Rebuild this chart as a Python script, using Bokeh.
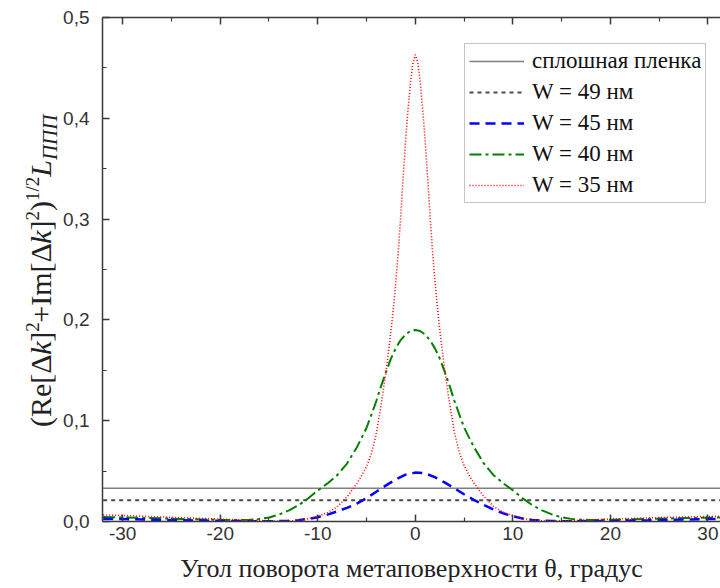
import math
from bokeh.plotting import figure
from bokeh.layouts import row
from bokeh.models import (Range1d, LinearAxis, FixedTicker, Legend, LegendItem, CustomJSTickFormatter)
from bokeh.core.properties import value
from bokeh.embed import file_html
from bokeh.resources import INLINE

# ---------------- data ----------------
theta_flat = [-32, 32]
film = [0.033, 0.033]          # сплошная пленка
w49 = [0.021, 0.021]           # W = 49 нм

theta_w45 = [-32, -30, -28, -26, -24, -22, -20, -18, -16, -14, -13, -12, -11, -10, -9, -8, -7, -6, -5, -4,
             -3, -2, -1, 0, 1, 2, 3, 4, 5, 6, 7, 8, 9, 10, 11, 12, 13, 14, 16, 18, 20, 22, 24, 26, 28, 30, 32]
w45 = [0.0028, 0.0024, 0.0020, 0.0016, 0.0012, 0.0009, 0.0006, 0.0004, 0.0003, 0.0004, 0.0007, 0.0013,
       0.0025, 0.0043, 0.0068, 0.0100, 0.0135, 0.0178, 0.0232, 0.0295, 0.0358, 0.0418, 0.0465, 0.0485,
       0.0478, 0.0440, 0.0388, 0.0330, 0.0270, 0.0215, 0.0165, 0.0120, 0.0082, 0.0052, 0.0030, 0.0016,
       0.0008, 0.0004, 0.0003, 0.0004, 0.0006, 0.0009, 0.0012, 0.0016, 0.0020, 0.0024, 0.0028]

theta_w40 = [-32, -30, -28, -26, -24, -22, -20, -18, -17, -16, -15, -14, -13, -12, -11, -10, -9, -8, -7, -6,
             -5.5, -5, -4.5, -4, -3.5, -3, -2.5, -2, -1.5, -1, -0.5, 0, 0.5, 1, 1.5, 2, 2.5, 3, 3.5, 4, 4.5,
             5, 5.5, 6, 7, 8, 9, 10, 11, 12, 13, 14, 15, 16, 17, 18, 20, 22, 24, 26, 28, 30, 32]
w40 = [0.0045, 0.0040, 0.0036, 0.0031, 0.0026, 0.0021, 0.0017, 0.0014, 0.0017, 0.0025, 0.0040, 0.0068,
       0.0108, 0.0160, 0.0228, 0.0308, 0.0378, 0.0460, 0.0575, 0.0735, 0.0830, 0.0930, 0.1060, 0.1195,
       0.1345, 0.1485, 0.1615, 0.1720, 0.1800, 0.1855, 0.1890, 0.1900, 0.1890, 0.1855, 0.1800, 0.1720,
       0.1620, 0.1490, 0.1350, 0.1200, 0.1065, 0.0935, 0.0835, 0.0740, 0.0580, 0.0462, 0.0380, 0.0310,
       0.0230, 0.0162, 0.0110, 0.0070, 0.0042, 0.0026, 0.0018, 0.0015, 0.0017, 0.0021, 0.0026, 0.0030,
       0.0034, 0.0038, 0.0042]

theta_w35 = [-32, -30, -28, -26, -24, -22, -20, -18, -16, -14, -13, -12, -11, -10, -9, -8, -7, -6, -5.5, -5,
             -4.5, -4, -3.5, -3, -2.75, -2.5, -2.25, -2, -1.75, -1.5, -1.25, -1, -0.75, -0.5, -0.25, 0,
             0.25, 0.5, 0.75, 1, 1.25, 1.5, 1.75, 2, 2.25, 2.5, 2.75, 3, 3.5, 4, 4.5, 5, 5.5, 6, 7, 8, 9,
             10, 11, 12, 13, 14, 16, 18, 20, 22, 24, 26, 28, 30, 32]
w35 = [0.0066, 0.0060, 0.0052, 0.0045, 0.0038, 0.0031, 0.0024, 0.0017, 0.0011, 0.0004, 0.0004, 0.0012,
       0.0028, 0.0052, 0.0088, 0.0145, 0.0245, 0.0375, 0.0455, 0.0545, 0.0675, 0.0870, 0.1160, 0.1490,
       0.1690, 0.1890, 0.2110, 0.2370, 0.2670, 0.3020, 0.3410, 0.3770, 0.4080, 0.4350, 0.4550, 0.4630,
       0.4555, 0.4365, 0.4095, 0.3790, 0.3430, 0.3050, 0.2700, 0.2400, 0.2140, 0.1910, 0.1710, 0.1510,
       0.1180, 0.0890, 0.0690, 0.0555, 0.0462, 0.0382, 0.0252, 0.0152, 0.0092, 0.0056, 0.0031, 0.0014,
       0.0005, 0.0004, 0.0010, 0.0017, 0.0024, 0.0030, 0.0036, 0.0041, 0.0046, 0.0050, 0.0053]

x_ticks = [-30, -20, -10, 0, 10, 20, 30]
x_tick_labels = ["-30", "-20", "-10", "0", "10", "20", "30"]
x_minor = [-25, -15, -5, 5, 15, 25]
y_ticks = [0.0, 0.1, 0.2, 0.3, 0.4, 0.5]
y_minor = [0.05, 0.15, 0.25, 0.35, 0.45]
y_tick_labels = ["0,0", "0,1", "0,2", "0,3", "0,4", "0,5"]
x_title = "Угол поворота метаповерхности θ, градус"
legend_labels = ["сплошная пленка", "W = 49 нм", "W = 45 нм", "W = 40 нм", "W = 35 нм"]
# y title: (text, role, style, approx. advance width in em of its own size)
y_title_pieces = [("(Re[Δ", "main", "normal", 2.39), ("k", "main", "italic", 0.44),
                  ("]", "main", "normal", 0.33), ("2", "sup", "normal", 0.5),
                  ("+Im[Δ", "main", "normal", 2.62), ("k", "main", "italic", 0.44),
                  ("]", "main", "normal", 0.33), ("2", "sup", "normal", 0.5),
                  (")", "main", "normal", 0.33), ("1/2", "sup", "normal", 1.28),
                  ("L", "main", "italic", 0.56), ("ППП", "sub", "italic", 2.16)]

# ---------------- layout geometry (canvas px) ----------------
W, H = 720, 588
LW = 60                      # width of the strip holding the rotated y title
FL, FT, FB = 101, 17, 521    # frame left / top / bottom

# ---------------- main figure ----------------
p = figure(width=W - LW, height=H, output_backend="svg", toolbar_location=None,
           x_range=Range1d(-32.07, 31.29), y_range=Range1d(0.0, 0.5),
           min_border_left=FL - LW, min_border_right=0, min_border_top=FT, min_border_bottom=H - FB)
p.outline_line_color = None
p.xgrid.visible = False
p.ygrid.visible = False
p.background_fill_color = "white"
p.border_fill_color = "white"

axis_color = "#3a3a3a"
xt = FixedTicker(ticks=x_ticks, minor_ticks=x_minor)
yt = FixedTicker(ticks=y_ticks, minor_ticks=y_minor)

xa = p.xaxis[0]
xa.ticker = xt
xa.major_label_overrides = {t: s for t, s in zip(x_ticks, x_tick_labels)}
ya = p.yaxis[0]
ya.ticker = yt
ya.major_label_overrides = {t: s for t, s in zip(y_ticks, y_tick_labels)}
for ax in (xa, ya):
    ax.axis_line_color = axis_color
    ax.axis_line_width = 1.5
    ax.major_tick_line_color = axis_color
    ax.minor_tick_line_color = axis_color
    ax.major_tick_line_width = 1.5
    ax.minor_tick_line_width = 1.2
    ax.major_tick_in = 7
    ax.major_tick_out = 0
    ax.minor_tick_in = 4
    ax.minor_tick_out = 0
    ax.major_label_text_font = "Liberation Sans"
    ax.major_label_text_font_size = "19px"
    ax.major_label_text_color = "#333333"
xa.major_label_standoff = 5
ya.major_label_standoff = 13
xa.axis_label = x_title
xa.axis_label_text_font = "Liberation Serif"
xa.axis_label_text_font_size = "26px"
xa.axis_label_text_font_style = "normal"
xa.axis_label_text_color = "#222222"
xa.axis_label_standoff = 11

top = LinearAxis(ticker=xt, formatter=CustomJSTickFormatter(code="return ''"),
                 axis_line_color=axis_color,
                 axis_line_width=1.5, major_tick_line_color=axis_color, minor_tick_line_color=axis_color,
                 major_tick_line_width=1.5, minor_tick_line_width=1.2,
                 major_tick_in=7, major_tick_out=0, minor_tick_in=4, minor_tick_out=0,
                 major_label_standoff=0)
p.add_layout(top, "above")

# ---------------- lines ----------------
r_film = p.line(theta_flat, film, line_color="#808080", line_width=1.5)
r49 = p.line(theta_flat, w49, line_color="#4a4a4a", line_width=2, line_dash="4 4")
r40 = p.line(theta_w40, w40, line_color="#008000", line_width=2, line_dash="12 4 3 4")
r45 = p.line(theta_w45, w45, line_color="#0000ff", line_width=2.5, line_dash="10 6")
r35 = p.line(theta_w35, w35, line_color="#ff0000", line_width=1.6, line_dash="1 2")

legend = Legend(items=[LegendItem(label=legend_labels[0], renderers=[r_film]),
                       LegendItem(label=legend_labels[1], renderers=[r49]),
                       LegendItem(label=legend_labels[2], renderers=[r45]),
                       LegendItem(label=legend_labels[3], renderers=[r40]),
                       LegendItem(label=legend_labels[4], renderers=[r35])],
                location=(463 - FL, FB - 203))
legend.label_text_font = "Liberation Serif"
legend.label_text_font_size = "23px"
legend.label_text_color = "#111111"
legend.glyph_width = 55
legend.glyph_height = 22
legend.label_height = 22
legend.spacing = 5
legend.padding = 4
legend.margin = 0
legend.label_standoff = 8
legend.border_line_color = "#8a8a8a"
legend.border_line_width = 1.5
legend.background_fill_color = "white"
legend.background_fill_alpha = 1.0
p.add_layout(legend, "center")

# ---------------- strip with the rotated y-axis title ----------------
# its frame is aligned with the main frame (FT..FB), so its y data = H - canvas y
s = figure(width=LW, height=H, output_backend="svg", toolbar_location=None,
           x_range=Range1d(0, LW), y_range=Range1d(H - FB, H - FT),
           min_border_left=0, min_border_right=0, min_border_top=FT, min_border_bottom=H - FB,
           x_axis_type=None, y_axis_type=None)
s.outline_line_color = None
s.xgrid.visible = False
s.ygrid.visible = False
s.border_fill_color = "white"
s.background_fill_color = "white"

# role -> (font size px, centre line x in canvas px)
roles = {"main": (30, 40), "sup": (19, 32), "sub": (21, 49)}
cursor = 426.0               # canvas y where the title starts (bottom), text runs upward
for text, role, style, em in y_title_pieces:
    size, cx = roles[role]
    length = em * size
    cy = cursor - length / 2
    s.text(x=[cx], y=[H - cy], text=[text], angle=math.pi / 2,
           text_align="center", text_baseline="middle",
           text_font=value("Liberation Serif"), text_font_size=value(f"{size}px"),
           text_font_style=style, text_color="#222222")
    cursor -= length

layout = row(s, p, spacing=0)
open("out.html", "w").write(file_html(layout, INLINE))
